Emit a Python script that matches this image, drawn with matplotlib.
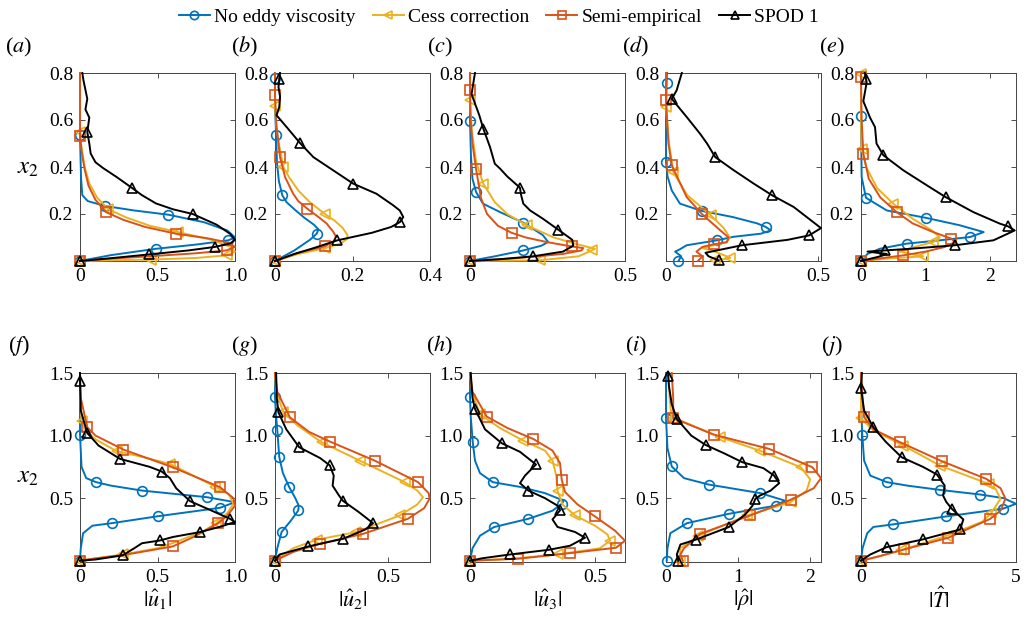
import numpy as np
import matplotlib.pyplot as plt

plt.rcParams['font.family'] = ['Liberation Serif', 'DejaVu Serif']
plt.rcParams['mathtext.fontset'] = 'stix'

labels = ['No eddy viscosity', 'Cess correction', 'Semi-empirical', 'SPOD 1']
colors = ['#0072BD', '#EDB120', '#D95319', 'black']
markers = ['o', '<', 's', '^']

# each point: (|q|, x2, marker flag), ordered along the curve
# ---- top row: mode at first frequency ----
a_nev = [(0, 0, 1), (0.2, 0.025, 0), (0.49, 0.052, 1), (0.75, 0.07, 0), (0.957, 0.088, 1), (1.0, 0.1, 0),
         (0.95, 0.13, 0), (0.8, 0.165, 0), (0.57, 0.197, 1), (0.35, 0.215, 0), (0.161, 0.234, 1),
         (0.05, 0.255, 0), (0.015, 0.28, 0), (0.007, 0.35, 0), (0.003, 0.45, 0), (0, 0.535, 1), (0, 0.8, 0)]
a_cess = [(0, 0, 1), (0.2, 0.003, 0), (0.46, 0.006, 1), (0.75, 0.013, 0), (0.946, 0.024, 1), (1.0, 0.04, 0),
          (0.97, 0.06, 0), (0.85, 0.09, 0), (0.634, 0.123, 1), (0.45, 0.15, 0), (0.3, 0.185, 0),
          (0.183, 0.22, 1), (0.11, 0.27, 0), (0.06, 0.33, 0), (0.03, 0.4, 0), (0.01, 0.48, 0), (0, 0.55, 1), (0, 0.8, 0)]
a_semi = [(0, 0, 1), (0.2, 0.01, 0), (0.45, 0.02, 0), (0.75, 0.033, 0), (0.946, 0.045, 1), (1.0, 0.06, 0),
          (0.96, 0.078, 0), (0.82, 0.097, 0), (0.62, 0.116, 1), (0.42, 0.145, 0), (0.28, 0.175, 0),
          (0.168, 0.208, 1), (0.1, 0.26, 0), (0.055, 0.32, 0), (0.03, 0.39, 0), (0.012, 0.46, 0), (0, 0.53, 1), (0, 0.8, 0)]
a_spod = [(0, 0, 1), (0.2, 0.012, 0), (0.445, 0.028, 1), (0.7, 0.045, 0), (0.871, 0.06, 1), (0.97, 0.075, 0),
          (1.0, 0.09, 0), (0.97, 0.115, 0), (0.88, 0.155, 0), (0.727, 0.2, 1), (0.6, 0.22, 0), (0.49, 0.245, 0),
          (0.4, 0.28, 0), (0.333, 0.312, 1), (0.237, 0.357, 0), (0.15, 0.395, 0), (0.1, 0.42, 0), (0.069, 0.457, 0),
          (0.06, 0.5, 0), (0.047, 0.549, 1), (0.06, 0.61, 0), (0.035, 0.645, 0), (0.047, 0.69, 0),
          (0.022, 0.77, 0), (0.015, 0.8, 0)]

b_nev = [(0, 0, 1), (0.05, 0.045, 0), (0.09, 0.09, 0), (0.1075, 0.116, 1), (0.112, 0.135, 0), (0.1, 0.155, 0),
         (0.075, 0.185, 0), (0.05, 0.22, 0), (0.03, 0.25, 0), (0.019, 0.279, 1), (0.01, 0.34, 0), (0.005, 0.42, 0),
         (0.003, 0.535, 1), (0, 0.65, 0), (0, 0.78, 1), (0, 0.8, 0)]
b_cess = [(0, 0, 1), (0.06, 0.03, 0), (0.13, 0.055, 1), (0.17, 0.075, 0), (0.187, 0.095, 0), (0.187, 0.11, 0),
          (0.175, 0.14, 0), (0.155, 0.17, 0), (0.129, 0.2, 1), (0.09, 0.25, 0), (0.06, 0.3, 0), (0.035, 0.36, 0),
          (0.0215, 0.4, 1), (0.01, 0.5, 0), (0.003, 0.58, 0), (0, 0.66, 1), (0, 0.8, 0)]
b_semi = [(0, 0, 1), (0.06, 0.035, 0), (0.13, 0.063, 1), (0.152, 0.085, 0), (0.157, 0.105, 0), (0.15, 0.125, 0),
          (0.133, 0.16, 0), (0.11, 0.19, 0), (0.083, 0.223, 1), (0.06, 0.255, 0), (0.047, 0.286, 0),
          (0.026, 0.357, 0), (0.013, 0.442, 1), (0.004, 0.57, 0), (0, 0.705, 1), (0, 0.8, 0)]
b_spod = [(0, 0, 1), (0.05, 0.03, 0), (0.1, 0.055, 0), (0.161, 0.088, 1), (0.25, 0.12, 0), (0.3, 0.145, 0),
          (0.3226, 0.166, 1), (0.331, 0.187, 0), (0.322, 0.215, 0), (0.305, 0.237, 0), (0.262, 0.286, 0),
          (0.202, 0.329, 1), (0.15, 0.386, 0), (0.099, 0.442, 0), (0.0645, 0.502, 1), (0.03, 0.57, 0),
          (0.004, 0.62, 0), (0.011, 0.655, 0), (0.013, 0.7, 0), (0.009, 0.74, 0), (0.011, 0.776, 1), (0.013, 0.8, 0)]

c_nev = [(0, 0, 1), (0.08, 0.02, 0), (0.172, 0.045, 1), (0.23, 0.065, 0), (0.252, 0.081, 0), (0.235, 0.11, 0),
         (0.2, 0.14, 0), (0.172, 0.163, 1), (0.097, 0.208, 0), (0.042, 0.244, 0), (0.0194, 0.294, 1),
         (0.008, 0.35, 0), (0.003, 0.45, 0), (0, 0.596, 1), (0, 0.8, 0)]
c_cess = [(0, 0, 1), (0.226, 0.003, 1), (0.35, 0.02, 0), (0.393, 0.045, 1), (0.403, 0.052, 0), (0.35, 0.07, 0),
          (0.27, 0.1, 0), (0.183, 0.152, 1), (0.12, 0.2, 0), (0.08, 0.25, 0), (0.043, 0.329, 1), (0.02, 0.42, 0),
          (0.006, 0.55, 0), (0, 0.683, 1), (0, 0.8, 0)]
c_semi = [(0, 0, 1), (0.15, 0.012, 0), (0.3, 0.03, 0), (0.36, 0.045, 0), (0.365, 0.055, 0), (0.328, 0.062, 1),
          (0.25, 0.08, 0), (0.18, 0.1, 0), (0.134, 0.12, 1), (0.09, 0.15, 0), (0.055, 0.2, 0), (0.035, 0.27, 0),
          (0.0194, 0.393, 1), (0.008, 0.5, 0), (0.002, 0.6, 0), (0, 0.729, 1), (0, 0.8, 0)]
c_spod = [(0, 0, 1), (0.1, 0.008, 0), (0.204, 0.02, 1), (0.3, 0.04, 0), (0.333, 0.065, 0), (0.33, 0.09, 0),
          (0.285, 0.133, 1), (0.235, 0.18, 0), (0.194, 0.215, 0), (0.172, 0.244, 0), (0.165, 0.28, 0),
          (0.161, 0.312, 1), (0.12, 0.36, 0), (0.097, 0.393, 0), (0.08, 0.414, 0), (0.0645, 0.485, 0),
          (0.043, 0.563, 1), (0.03, 0.62, 0), (0.005, 0.71, 0), (0.016, 0.8, 0)]

d_nev = [(0.041, 0, 1), (0.05, 0.02, 0), (0.03, 0.04, 0), (0.046, 0.05, 0), (0.068, 0.067, 0), (0.168, 0.088, 1),
         (0.222, 0.103, 0), (0.311, 0.116, 0), (0.345, 0.13, 0), (0.328, 0.145, 1), (0.3, 0.16, 0),
         (0.22, 0.187, 0), (0.118, 0.213, 1), (0.046, 0.244, 0), (0.019, 0.3, 0), (0.005, 0.36, 0),
         (0, 0.421, 1), (0, 0.6, 0), (0.002, 0.757, 1), (0.003, 0.8, 0)]
d_cess = [(0.162, 0.003, 1), (0.2, 0.01, 0), (0.212, 0.014, 1), (0.15, 0.045, 0), (0.12, 0.055, 0),
          (0.15, 0.065, 0), (0.2, 0.08, 0), (0.21, 0.1, 0), (0.19, 0.14, 0), (0.148, 0.194, 1), (0.07, 0.28, 0),
          (0.024, 0.378, 1), (0.01, 0.5, 0), (0, 0.655, 1), (0, 0.8, 0)]
d_semi = [(0.105, 0, 1), (0.12, 0.02, 0), (0.1, 0.04, 0), (0.12, 0.06, 0), (0.157, 0.071, 1), (0.2, 0.08, 0),
          (0.206, 0.1, 0), (0.179, 0.13, 0), (0.118, 0.2, 1), (0.068, 0.272, 0), (0.019, 0.407, 1),
          (0.008, 0.5, 0), (0, 0.683, 1), (0, 0.8, 0)]
d_spod = [(0.173, 0.003, 1), (0.14, 0.02, 0), (0.13, 0.035, 0), (0.25, 0.067, 1), (0.4, 0.09, 0),
          (0.471, 0.109, 1), (0.51, 0.14, 0), (0.477, 0.173, 0), (0.42, 0.23, 0), (0.35, 0.279, 1),
          (0.289, 0.329, 0), (0.223, 0.386, 0), (0.162, 0.442, 1), (0.135, 0.5, 0), (0.113, 0.54, 0),
          (0.068, 0.613, 0), (0.019, 0.69, 1), (0.035, 0.726, 0), (0.052, 0.8, 0)]

e_nev = [(0, 0, 1), (0.1, 0.03, 0), (0.29, 0.052, 0), (0.707, 0.074, 1), (1.22, 0.088, 0), (1.69, 0.102, 1),
         (1.9, 0.123, 0), (1.53, 0.152, 0), (1.0, 0.184, 1), (0.4, 0.215, 0), (0.077, 0.269, 1),
         (0.01, 0.357, 0), (0, 0.615, 1), (0, 0.8, 0)]
e_cess = [(0, 0, 1), (0.5, 0.012, 0), (0.965, 0.02, 1), (0.6, 0.04, 0), (0.9, 0.065, 0), (1.12, 0.081, 1),
          (1.22, 0.1, 0), (1.1, 0.13, 0), (0.8, 0.18, 0), (0.5, 0.244, 1), (0.25, 0.31, 0), (0.08, 0.4, 0),
          (0.01, 0.478, 1), (0, 0.6, 0), (0, 0.794, 1), (0, 0.8, 0)]
e_semi = [(0, 0, 1), (0.4, 0.015, 0), (0.655, 0.024, 1), (1.0, 0.04, 0), (1.3, 0.06, 0), (1.45, 0.08, 0),
          (1.4, 0.095, 1), (1.1, 0.125, 0), (0.8, 0.16, 0), (0.552, 0.208, 1), (0.3, 0.27, 0), (0.12, 0.35, 0),
          (0.036, 0.457, 1), (0.01, 0.6, 0), (0, 0.783, 1), (0, 0.8, 0)]
e_spod = [(0, 0, 1), (0.3, 0.02, 0), (0.4, 0.03, 0), (0.1, 0.04, 0), (0.37, 0.045, 1), (0.76, 0.052, 0),
          (1.455, 0.067, 1), (2.05, 0.088, 0), (2.38, 0.13, 0), (2.28, 0.147, 1), (2.15, 0.159, 0),
          (1.74, 0.208, 0), (1.31, 0.272, 1), (1.02, 0.322, 0), (0.655, 0.386, 0), (0.346, 0.45, 1),
          (0.24, 0.5, 0), (0.217, 0.57, 0), (0.14, 0.61, 0), (0.036, 0.68, 0), (0.088, 0.76, 0),
          (0.077, 0.776, 1), (0.06, 0.8, 0)]

# ---- bottom row ----
f_nev = [(0, 0, 1), (0.005, 0.1, 0), (0.02, 0.22, 0), (0.08, 0.28, 0), (0.204, 0.3, 1), (0.505, 0.356, 1),
         (0.903, 0.423, 1), (1.0, 0.468, 0), (0.817, 0.508, 1), (0.398, 0.561, 1), (0.2, 0.6, 0),
         (0.103, 0.628, 1), (0.04, 0.66, 0), (0.01, 0.75, 0), (0, 1.008, 1), (0, 1.5, 0)]
f_cess = [(0, 0, 1), (0.1, 0.02, 0), (0.28, 0.05, 1), (0.5, 0.1, 0), (0.62, 0.15, 0), (0.8, 0.24, 0),
          (0.88, 0.3, 1), (0.95, 0.38, 0), (0.99, 0.455, 0), (0.96, 0.53, 0), (0.87, 0.593, 1),
          (0.58, 0.774, 1), (0.4, 0.83, 0), (0.237, 0.875, 1), (0.1, 0.97, 0), (0.03, 1.05, 0),
          (0.01, 1.12, 1), (0, 1.3, 0), (0, 1.5, 0)]
f_semi = [(0, 0, 1), (0.05, 0.01, 0), (0.3, 0.05, 0), (0.598, 0.114, 1), (0.75, 0.2, 0), (0.892, 0.3, 1),
          (0.95, 0.36, 0), (1.0, 0.44, 0), (0.99, 0.5, 0), (0.903, 0.588, 1), (0.598, 0.747, 1),
          (0.28, 0.888, 1), (0.1, 1.0, 0), (0.047, 1.066, 1), (0.005, 1.3, 0), (0, 1.5, 0)]
f_spod = [(0, 0, 1), (0.1, 0.01, 0), (0.275, 0.043, 1), (0.35, 0.1, 0), (0.4, 0.14, 0), (0.516, 0.162, 1),
          (0.6, 0.19, 0), (0.774, 0.229, 1), (0.9, 0.27, 0), (1.0, 0.31, 0), (0.968, 0.335, 1), (0.85, 0.4, 0),
          (0.71, 0.476, 1), (0.62, 0.58, 0), (0.58, 0.66, 0), (0.527, 0.713, 1), (0.45, 0.75, 0),
          (0.258, 0.814, 1), (0.12, 0.92, 0), (0.047, 1.02, 1), (0.005, 1.2, 0), (0, 1.44, 1), (0, 1.5, 0)]

g_nev = [(0, 0, 1), (0.01, 0.1, 0), (0.029, 0.229, 1), (0.07, 0.32, 0), (0.103, 0.402, 1), (0.105, 0.44, 0),
         (0.09, 0.5, 0), (0.063, 0.588, 1), (0.035, 0.7, 0), (0.019, 0.827, 1), (0.01, 1.045, 1),
         (0.003, 1.2, 0), (0, 1.306, 1), (0, 1.5, 0)]
g_cess = [(0, 0, 1), (0.08, 0.1, 0), (0.184, 0.168, 1), (0.36, 0.229, 1), (0.552, 0.362, 1), (0.63, 0.45, 0),
          (0.655, 0.508, 0), (0.63, 0.56, 0), (0.574, 0.628, 1), (0.375, 0.8, 1), (0.206, 0.947, 1),
          (0.1, 1.08, 0), (0.037, 1.186, 1), (0.005, 1.35, 0), (0, 1.5, 0)]
g_semi = [(0, 0, 1), (0.08, 0.07, 0), (0.199, 0.136, 1), (0.39, 0.215, 1), (0.588, 0.335, 1), (0.66, 0.42, 0),
          (0.684, 0.495, 0), (0.68, 0.54, 0), (0.633, 0.628, 1), (0.441, 0.8, 1), (0.243, 0.952, 1),
          (0.15, 1.03, 0), (0.066, 1.146, 1), (0.01, 1.35, 0), (0, 1.5, 0)]
g_spod = [(0, 0, 1), (0.02, 0.05, 0), (0.147, 0.114, 1), (0.302, 0.176, 1), (0.4, 0.25, 0), (0.434, 0.3, 1),
          (0.37, 0.39, 0), (0.299, 0.481, 1), (0.28, 0.53, 0), (0.255, 0.6, 0), (0.26, 0.68, 0),
          (0.243, 0.761, 1), (0.2, 0.82, 0), (0.107, 0.907, 1), (0.05, 1.05, 0), (0.015, 1.186, 1),
          (0.008, 1.3, 0), (0.005, 1.5, 0)]

h_nev = [(0, 0, 1), (0.01, 0.1, 0), (0.04, 0.2, 0), (0.096, 0.269, 1), (0.233, 0.335, 1), (0.33, 0.4, 0),
         (0.367, 0.455, 1), (0.375, 0.48, 0), (0.3, 0.54, 0), (0.2, 0.59, 0), (0.091, 0.628, 1), (0.04, 0.7, 0),
         (0.02, 0.8, 0), (0.011, 0.947, 1), (0.003, 1.15, 0), (0, 1.306, 1), (0, 1.5, 0)]
h_cess = [(0, 0, 1), (0.16, 0.015, 0), (0.35, 0.05, 1), (0.52, 0.1, 0), (0.56, 0.16, 1), (0.55, 0.21, 0),
          (0.5, 0.28, 0), (0.42, 0.362, 1), (0.37, 0.45, 0), (0.35, 0.56, 1), (0.345, 0.68, 0), (0.33, 0.8, 1),
          (0.3, 0.88, 0), (0.213, 0.96, 1), (0.12, 1.06, 0), (0.04, 1.17, 1), (0.008, 1.35, 0), (0, 1.5, 0)]
h_semi = [(0, 0, 1), (0.193, 0.016, 1), (0.4, 0.061, 1), (0.584, 0.104, 1), (0.62, 0.16, 0), (0.58, 0.24, 0),
          (0.5, 0.354, 1), (0.43, 0.45, 0), (0.38, 0.55, 0), (0.367, 0.646, 1), (0.36, 0.78, 0),
          (0.33, 0.88, 0), (0.253, 0.973, 1), (0.15, 1.06, 0), (0.067, 1.152, 1), (0.01, 1.35, 0), (0, 1.5, 0)]
h_spod = [(0, 0, 1), (0.05, 0.02, 0), (0.16, 0.05, 1), (0.317, 0.088, 1), (0.4, 0.12, 0), (0.46, 0.184, 1),
          (0.42, 0.23, 0), (0.35, 0.27, 0), (0.33, 0.33, 0), (0.36, 0.402, 1), (0.35, 0.44, 0), (0.3, 0.5, 0),
          (0.233, 0.561, 1), (0.2, 0.62, 0), (0.22, 0.68, 0), (0.264, 0.769, 1), (0.2, 0.87, 0),
          (0.127, 0.939, 1), (0.06, 1.05, 0), (0.02, 1.213, 1), (0.01, 1.3, 0), (0.003, 1.5, 0)]

i_nev = [(0.01, 0, 1), (0.02, 0.1, 0), (0.06, 0.22, 0), (0.29, 0.3, 1), (0.87, 0.375, 1), (1.52, 0.44, 1),
         (1.65, 0.48, 0), (1.31, 0.54, 1), (0.59, 0.609, 1), (0.25, 0.66, 0), (0.08, 0.753, 1), (0.02, 0.9, 0),
         (0, 1.141, 1), (0, 1.5, 0)]
i_cess = [(0.19, 0, 1), (0.2, 0.1, 0), (0.45, 0.2, 1), (1.127, 0.362, 1), (1.73, 0.468, 1), (1.95, 0.56, 0),
          (2.0, 0.65, 0), (1.87, 0.747, 1), (1.3, 0.88, 1), (0.754, 0.987, 1), (0.2, 1.12, 0), (0.08, 1.13, 1),
          (0.05, 1.3, 0), (0.03, 1.5, 0)]
i_semi = [(0.233, 0, 1), (0.2, 0.05, 0), (0.25, 0.1, 0), (0.475, 0.215, 1), (1.17, 0.362, 1), (1.73, 0.487, 1),
          (2.05, 0.58, 0), (2.15, 0.66, 0), (2.03, 0.747, 1), (1.43, 0.894, 1), (0.66, 1.008, 1),
          (0.1, 1.14, 1), (0.1, 1.3, 0), (0.08, 1.5, 0)]
i_spod = [(0.17, 0, 1), (0.15, 0.05, 0), (0.2, 0.13, 0), (0.41, 0.168, 1), (0.87, 0.269, 1), (1.1, 0.37, 0),
          (1.2, 0.44, 0), (1.24, 0.495, 1), (1.3, 0.52, 0), (1.45, 0.56, 0), (1.57, 0.62, 0), (1.5, 0.68, 1),
          (1.35, 0.74, 0), (1.06, 0.787, 1), (0.8, 0.86, 0), (0.55, 0.925, 1), (0.35, 1.0, 0), (0.15, 1.133, 1),
          (0.08, 1.25, 0), (0.04, 1.4, 0), (0.03, 1.479, 1), (0.03, 1.5, 0)]

j_nev = [(0, 0, 1), (0.05, 0.1, 0), (0.2, 0.22, 0), (0.4, 0.27, 0), (1.02, 0.29, 1), (2.74, 0.354, 1),
         (4.57, 0.415, 1), (5.0, 0.455, 0), (4.6, 0.5, 0), (3.85, 0.529, 1), (2.55, 0.566, 1), (1.5, 0.6, 0),
         (0.83, 0.628, 1), (0.3, 0.68, 0), (0.1, 0.8, 0), (0.04, 1.008, 1), (0.01, 1.2, 0), (0, 1.5, 0)]
j_cess = [(0, 0, 1), (0.5, 0.03, 0), (1.3, 0.085, 1), (2.77, 0.2, 1), (3.9, 0.31, 0), (4.2, 0.38, 1),
          (4.5, 0.495, 0), (4.35, 0.57, 0), (4.12, 0.614, 1), (2.55, 0.76, 1), (1.37, 0.92, 1), (0.4, 1.04, 0),
          (0, 1.14, 1), (0, 1.5, 0)]
j_semi = [(0, 0, 1), (0.5, 0.03, 0), (1.39, 0.09, 1), (2.82, 0.184, 1), (4.17, 0.335, 1), (4.5, 0.4, 0),
          (4.66, 0.495, 0), (4.5, 0.58, 0), (4.04, 0.654, 1), (2.61, 0.795, 1), (1.26, 0.947, 1),
          (0.4, 1.05, 0), (0.1, 1.146, 1), (0.05, 1.3, 0), (0, 1.5, 0)]
j_spod = [(0, 0, 1), (0.3, 0.05, 0), (0.83, 0.109, 1), (1.99, 0.17, 1), (3.2, 0.25, 1), (3.3, 0.33, 0),
          (2.93, 0.415, 1), (2.75, 0.47, 0), (2.65, 0.52, 0), (2.7, 0.6, 0), (2.45, 0.689, 1), (2.0, 0.75, 0),
          (1.31, 0.827, 1), (0.8, 0.95, 0), (0.4, 1.066, 1), (0.1, 1.2, 0), (0, 1.38, 1), (0.03, 1.5, 0)]

panel_letters = ['a', 'b', 'c', 'd', 'e', 'f', 'g', 'h', 'i', 'j']
panel_curves = [
    [a_nev, a_cess, a_semi, a_spod], [b_nev, b_cess, b_semi, b_spod], [c_nev, c_cess, c_semi, c_spod],
    [d_nev, d_cess, d_semi, d_spod], [e_nev, e_cess, e_semi, e_spod], [f_nev, f_cess, f_semi, f_spod],
    [g_nev, g_cess, g_semi, g_spod], [h_nev, h_cess, h_semi, h_spod], [i_nev, i_cess, i_semi, i_spod],
    [j_nev, j_cess, j_semi, j_spod]]
xmax = [1.0, 0.4, 0.5, 0.51, 2.4, 1.0, 0.686, 0.62, 2.15, 5.0]
xticks = [[0, 0.5, 1.0], [0, 0.2, 0.4], [0, 0.5], [0, 0.5], [0, 1, 2],
          [0, 0.5, 1.0], [0, 0.5], [0, 0.5], [0, 1, 2], [0, 5]]
xticklabels = [['0', '0.5', '1.0'], ['0', '0.2', '0.4'], ['0', '0.5'], ['0', '0.5'], ['0', '1', '2'],
               ['0', '0.5', '1.0'], ['0', '0.5'], ['0', '0.5'], ['0', '1', '2'], ['0', '5']]
xlabels = [r'$|\hat{u}_1|$', r'$|\hat{u}_2|$', r'$|\hat{u}_3|$', r'$|\hat{\rho}|$', r'$|\hat{T}|$']

W, H = 1024, 622
fig = plt.figure(figsize=(W / 100, H / 100), dpi=100)
lefts = [80, 275, 470, 666, 861]
label_x = [19, 245, 440, 636, 832]

for k in range(10):
    row, col = divmod(k, 5)
    if row == 0:
        rect = [lefts[col] / W, (H - 261) / H, 155 / W, 188 / H]
    else:
        rect = [lefts[col] / W, (H - 562) / H, 155 / W, 189 / H]
    ax = fig.add_axes(rect)
    for curve, c, m in zip(panel_curves[k], colors, markers):
        pts = np.array(curve, dtype=float)
        idx = np.nonzero(pts[:, 2] > 0)[0].tolist()
        ax.plot(pts[:, 0], pts[:, 1], color=c, lw=1.4, marker=m, markevery=idx,
                ms=7, mfc='none', mec=c, mew=1.2, clip_on=False, zorder=3)
    ax.set_xlim(0, xmax[k])
    if row == 0:
        ax.set_ylim(0, 0.8)
        ax.set_yticks([0.2, 0.4, 0.6, 0.8])
        ax.set_yticklabels(['0.2', '0.4', '0.6', '0.8'])
    else:
        ax.set_ylim(-0.01, 1.5)
        ax.set_yticks([0.5, 1.0, 1.5])
        ax.set_yticklabels(['0.5', '1.0', '1.5'])
        ax.set_xlabel(xlabels[col], fontsize=16, labelpad=1)
    ax.set_xticks(xticks[k])
    ax.set_xticklabels(xticklabels[k])
    ax.tick_params(direction='in', top=True, right=True, length=3.5, width=0.6,
                   labelsize=14, color='#333333', pad=5)
    for sp in ax.spines.values():
        sp.set_color('#444444')
        sp.set_linewidth(0.7)
    ly = 47 if row == 0 else 346
    fig.text(label_x[col] / W, 1 - ly / H, '(' + r'$\mathit{' + panel_letters[k] + '}$' + ')',
             fontsize=16, ha='center', va='center')

fig.text(28 / W, 1 - 168 / H, r'$x_2$', fontsize=18, ha='center', va='center')
fig.text(28 / W, 1 - 477 / H, r'$x_2$', fontsize=18, ha='center', va='center')

handles = [plt.Line2D([], [], color=c, lw=1.4, marker=m, ms=6, mfc='none', mec=c, mew=1.2)
           for c, m in zip(colors, markers)]
fig.legend(handles, labels, loc='upper center', bbox_to_anchor=(0.487, 1.015), ncol=4, frameon=False,
           fontsize=14, handlelength=1.6, handletextpad=0.2, columnspacing=0.9)

fig.savefig('out.png', dpi=100)
